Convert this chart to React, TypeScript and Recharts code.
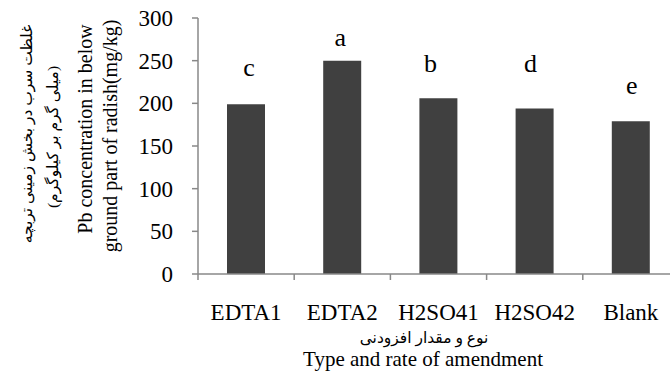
import { BarChart, Bar, XAxis, YAxis, LabelList } from "recharts";

const categories = ["EDTA1", "EDTA2", "H2SO41", "H2SO42", "Blank"];
const pbValues = [199, 250, 206, 194, 179];
const groupLetters = ["c", "a", "b", "d", "e"];
const yTicks = [0, 50, 100, 150, 200, 250, 300];

const data = categories.map((name, i) => ({
  name,
  pb: pbValues[i],
  letter: groupLetters[i],
}));

// hand-placed significance letters: lift above bar top, sideways nudge (px)
const LETTER_LIFT = [37, 24, 35, 46, 36];
const LETTER_NUDGE = [3, -2, -8, -4, 1];

const CHART_W = 690;
const CHART_H = 376;
const MARGIN = { top: 18, right: 11, bottom: 2, left: 0 };
const Y_AXIS_W = 198;
const X_AXIS_H = 100;
const BAND = (CHART_W - MARGIN.left - MARGIN.right - Y_AXIS_W) / categories.length;

const SERIF = "'Liberation Serif', 'Times New Roman', serif";
const PERSIAN = "'Liberation Serif', 'DejaVu Sans', serif";
const AXIS = "#888888";
const BAR = "#404040";

// category label plus Excel-style tick marks between categories
// eslint-disable-next-line @typescript-eslint/no-explicit-any
const CategoryTick = ({ x, y, payload, index }: any) => {
  const left = x - BAND / 2;
  return (
    <g>
      <line x1={left} y1={y} x2={left} y2={y + 6} stroke={AXIS} strokeWidth={1.5} />
      {index === categories.length - 1 && (
        <line x1={x + BAND / 2} y1={y} x2={x + BAND / 2} y2={y + 6} stroke={AXIS} strokeWidth={1.5} />
      )}
      <text x={x} y={y + 46} textAnchor="middle" fontFamily={SERIF} fontSize={23} fill="#000">
        {payload.value}
      </text>
    </g>
  );
};

// eslint-disable-next-line @typescript-eslint/no-explicit-any
const LetterLabel = ({ x, y, width, value }: any) => {
  const i = groupLetters.indexOf(value);
  return (
    <text
      x={x + width / 2 + LETTER_NUDGE[i]}
      y={y - LETTER_LIFT[i]}
      dy="0.35em"
      textAnchor="middle"
      fontFamily={SERIF}
      fontSize={26}
      fill="#000"
    >
      {value}
    </text>
  );
};

const XTitle = () => (
  <g>
    <text x={424} y={343} textAnchor="middle" direction="rtl" fontFamily={PERSIAN} fontSize={15.5} fill="#000">
      نوع و مقدار افزودنی
    </text>
    <text x={423} y={366} textAnchor="middle" fontFamily={SERIF} fontSize={21} fill="#000">
      Type and rate of amendment
    </text>
  </g>
);

const YTitle = () => {
  const lines = [
    { text: "غلظت سرب در بخش زمینی تربچه", x: 27, y: 134, font: PERSIAN, size: 15.5, rtl: true },
    { text: "(میلی گرم بر کیلوگرم)", x: 53, y: 137, font: PERSIAN, size: 15.5, rtl: true },
    { text: "Pb concentration in below", x: 85, y: 129, font: SERIF, size: 20, rtl: false },
    { text: "ground part of radish(mg/kg)", x: 110, y: 136, font: SERIF, size: 20, rtl: false },
  ];
  return (
    <g>
      {lines.map((l) => (
        <text
          key={l.text}
          x={l.x}
          y={l.y}
          dy="0.35em"
          transform={`rotate(-90, ${l.x}, ${l.y})`}
          textAnchor="middle"
          direction={l.rtl ? "rtl" : "ltr"}
          fontFamily={l.font}
          fontSize={l.size}
          fill="#000"
        >
          {l.text}
        </text>
      ))}
    </g>
  );
};

export default function App() {
  return (
    <div
      style={{
        position: "fixed",
        left: 0,
        top: 0,
        width: 670,
        height: 376,
        overflow: "hidden",
        background: "#fff",
      }}
    >
      <BarChart width={CHART_W} height={CHART_H} data={data} margin={MARGIN}>
        <XAxis
          dataKey="name"
          height={X_AXIS_H}
          axisLine={{ stroke: AXIS, strokeWidth: 1.5 }}
          tickLine={false}
          tickSize={0}
          tickMargin={0}
          tick={<CategoryTick />}
          interval={0}
          label={{ content: () => <XTitle /> }}
        />
        <YAxis
          width={Y_AXIS_W}
          domain={[0, 300]}
          ticks={yTicks}
          interval={0}
          axisLine={{ stroke: AXIS, strokeWidth: 1.5 }}
          tickLine={{ stroke: AXIS, strokeWidth: 1.5 }}
          tickSize={6}
          tickMargin={19}
          tick={{ fill: "#000", fontSize: 23, fontFamily: SERIF }}
          label={{ content: () => <YTitle /> }}
        />
        <Bar dataKey="pb" fill={BAR} barSize={38} isAnimationActive={false}>
          <LabelList dataKey="letter" content={<LetterLabel />} />
        </Bar>
      </BarChart>
    </div>
  );
}
